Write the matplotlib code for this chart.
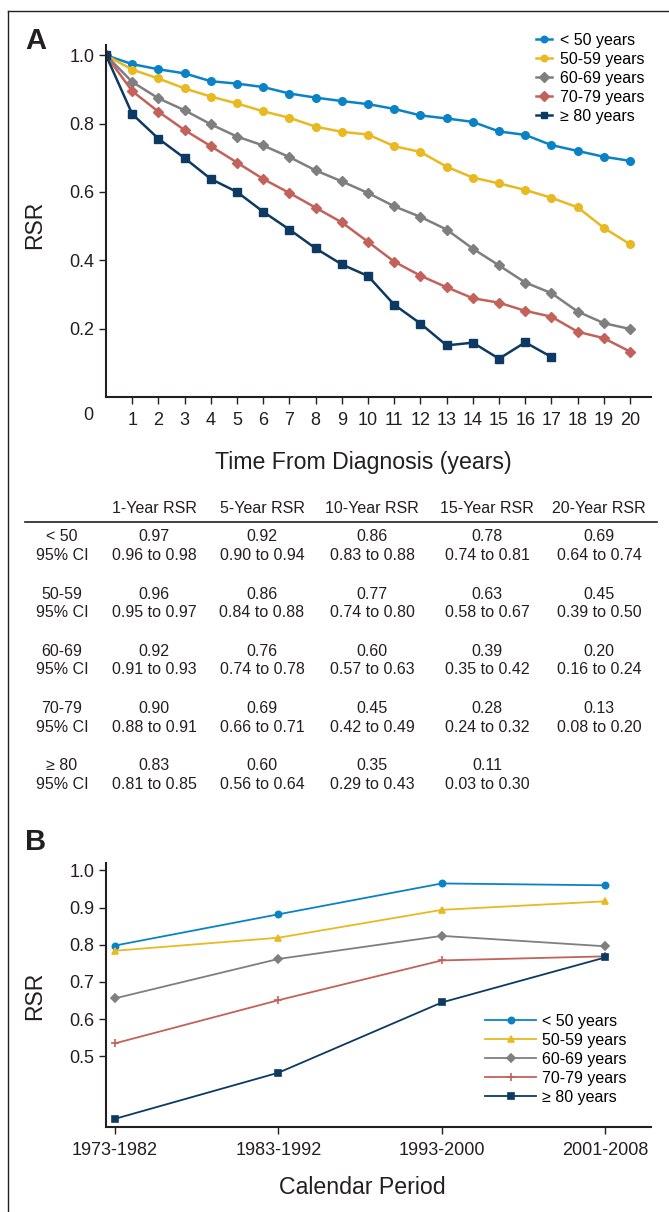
import matplotlib
matplotlib.use("Agg")
import matplotlib.pyplot as plt
from matplotlib.lines import Line2D

plt.rcParams['font.family'] = ['Liberation Sans', 'DejaVu Sans']

# ---- panel A data: relative survival ratio by years from diagnosis ----
years = list(range(0, 21))
rsr_lt50 = [1.0, 0.974, 0.959, 0.947, 0.924, 0.917, 0.907, 0.888, 0.876, 0.866, 0.857,
            0.843, 0.824, 0.815, 0.805, 0.777, 0.767, 0.737, 0.720, 0.703, 0.691]
rsr_50_59 = [1.0, 0.958, 0.932, 0.903, 0.879, 0.859, 0.836, 0.817, 0.791, 0.776, 0.768,
             0.734, 0.717, 0.674, 0.642, 0.625, 0.606, 0.583, 0.555, 0.495, 0.447]
rsr_60_69 = [1.0, 0.922, 0.874, 0.839, 0.798, 0.762, 0.736, 0.702, 0.663, 0.631, 0.597,
             0.558, 0.527, 0.490, 0.434, 0.385, 0.335, 0.304, 0.250, 0.216, 0.199]
rsr_70_79 = [1.0, 0.895, 0.835, 0.781, 0.734, 0.686, 0.638, 0.597, 0.554, 0.511, 0.454,
             0.396, 0.355, 0.321, 0.289, 0.276, 0.252, 0.235, 0.191, 0.172, 0.133]
rsr_ge80 = [1.0, 0.828, 0.756, 0.699, 0.638, 0.600, 0.542, 0.490, 0.435, 0.388, 0.354,
            0.270, 0.215, 0.151, 0.159, 0.112, 0.160, 0.117]

labels = ['< 50 years', '50-59 years', '60-69 years', '70-79 years', '\u2265 80 years']
colors = ['#0a83c6', '#e8b920', '#7f7f80', '#c2625a', '#0c3a62']

# ---- table data ----
tbl_cols = ['1-Year RSR', '5-Year RSR', '10-Year RSR', '15-Year RSR', '20-Year RSR']
tbl_rows = ['< 50', '50-59', '60-69', '70-79', '\u2265 80']
tbl_rsr = [[0.97, 0.92, 0.86, 0.78, 0.69],
           [0.96, 0.86, 0.77, 0.63, 0.45],
           [0.92, 0.76, 0.60, 0.39, 0.20],
           [0.90, 0.69, 0.45, 0.28, 0.13],
           [0.83, 0.60, 0.35, 0.11, None]]
tbl_lo = [[0.96, 0.90, 0.83, 0.74, 0.64],
          [0.95, 0.84, 0.74, 0.58, 0.39],
          [0.91, 0.74, 0.57, 0.35, 0.16],
          [0.88, 0.66, 0.42, 0.24, 0.08],
          [0.81, 0.56, 0.29, 0.03, None]]
tbl_hi = [[0.98, 0.94, 0.88, 0.81, 0.74],
          [0.97, 0.88, 0.80, 0.67, 0.50],
          [0.93, 0.78, 0.63, 0.42, 0.24],
          [0.91, 0.71, 0.49, 0.32, 0.20],
          [0.85, 0.64, 0.43, 0.30, None]]

# ---- panel B data: 5-year RSR by calendar period ----
periods = ['1973-1982', '1983-1992', '1993-2000', '2001-2008']
per_lt50 = [0.798, 0.882, 0.965, 0.960]
per_50_59 = [0.784, 0.819, 0.894, 0.917]
per_60_69 = [0.656, 0.762, 0.824, 0.796]
per_70_79 = [0.535, 0.651, 0.758, 0.769]
per_ge80 = [0.332, 0.456, 0.645, 0.766]

W, H = 669, 1212
INK = '#231f20'
fig = plt.figure(figsize=(W / 100, H / 100), dpi=100)


def fx(px):
    return px / W


def fy(py):
    return 1 - py / H


def style_axes(ax):
    for s in ['top', 'right']:
        ax.spines[s].set_visible(False)
    for s in ['left', 'bottom']:
        ax.spines[s].set_linewidth(1.5)
        ax.spines[s].set_color(INK)
    ax.tick_params(length=5, width=1, color=INK, labelsize=13, labelcolor=INK)


# frame around the figure
fig.add_artist(Line2D([fx(8), fx(8)], [0, fy(11)], color=INK, lw=1))
fig.add_artist(Line2D([fx(8), 1], [fy(11), fy(11)], color=INK, lw=1))

# ---------------- panel A ----------------
axA = fig.add_axes([fx(106), fy(397), fx(651) - fx(106), fy(45) - fy(397)])
seriesA = [rsr_lt50, rsr_50_59, rsr_60_69, rsr_70_79, rsr_ge80]
markersA = ['o', 'o', 'D', 'D', 's']
for vals, lab, c, m in zip(seriesA, labels, colors, markersA):
    axA.plot(years[:len(vals)], vals, color=c, lw=1.8, marker=m, ms=5.5,
             mec=c, mfc=c, label=lab)
axA.set_xlim(0, 20.8)
axA.set_ylim(0, 1.03)
axA.set_xticks(years[1:])
axA.set_yticks([0.2, 0.4, 0.6, 0.8, 1.0])
axA.set_yticklabels(['0.2', '0.4', '0.6', '0.8', '1.0'])
style_axes(axA)
axA.tick_params(axis='x', pad=6)
fig.text(fx(88), fy(415), '0', fontsize=13, color=INK, ha='center', va='center')
axA.legend(loc='upper left', bbox_to_anchor=(fx(536), fy(33)), bbox_transform=fig.transFigure,
           frameon=False, fontsize=11.5, handlelength=1.0, handletextpad=0.5,
           labelspacing=0.25, borderpad=0, borderaxespad=0, markerscale=0.85)
fig.text(fx(35), fy(225), 'RSR', rotation=90, fontsize=16.5,
         ha='center', va='center', color=INK)
fig.text(fx(363), fy(462), 'Time From Diagnosis (years)', fontsize=16.7,
         ha='center', va='center', color=INK)
fig.text(fx(36), fy(41), 'A', fontsize=21, fontweight='bold', ha='center', va='center',
         color=INK)

# ---------------- table ----------------
TFS = 11.5
col_x = [154, 262, 372, 487, 599]
for cx, name in zip(col_x, tbl_cols):
    fig.text(fx(cx), fy(508), name, fontsize=TFS, ha='center', va='center', color=INK)
fig.add_artist(Line2D([fx(25), fx(657)], [fy(522), fy(522)], color=INK, lw=1.2))
row_y0 = 537
row_step = 57.2
for i, rname in enumerate(tbl_rows):
    y1 = row_y0 + i * row_step
    y2 = y1 + 18.5
    fig.text(fx(62), fy(y1), rname, fontsize=TFS, ha='center', va='center', color=INK)
    fig.text(fx(62), fy(y2), '95% CI', fontsize=TFS, ha='center', va='center', color=INK)
    for j, cx in enumerate(col_x):
        v = tbl_rsr[i][j]
        if v is None:
            continue
        fig.text(fx(cx), fy(y1), f'{v:.2f}', fontsize=TFS, ha='center', va='center', color=INK)
        fig.text(fx(cx), fy(y2), f'{tbl_lo[i][j]:.2f} to {tbl_hi[i][j]:.2f}', fontsize=TFS,
                 ha='center', va='center', color=INK)

# ---------------- panel B ----------------
axB = fig.add_axes([fx(106), fy(1127), fx(651) - fx(106), fy(863) - fy(1127)])
seriesB = [per_lt50, per_50_59, per_60_69, per_70_79, per_ge80]
markersB = ['o', '^', 'D', '+', 's']
msB = [4.5, 5, 4, 6, 5]
xB = list(range(len(periods)))
for vals, lab, c, m, ms in zip(seriesB, labels, colors, markersB, msB):
    axB.plot(xB, vals, color=c, lw=1.3, marker=m, ms=ms, mec=c, mfc=c, mew=1.2, label=lab)
axB.set_xlim(-0.055, 3.28)
axB.set_ylim(0.31, 1.02)
axB.set_xticks(xB)
axB.set_xticklabels(periods)
axB.set_yticks([0.5, 0.6, 0.7, 0.8, 0.9, 1.0])
axB.set_yticklabels(['0.5', '0.6', '0.7', '0.8', '0.9', '1.0'])
style_axes(axB)
axB.tick_params(axis='x', pad=6)
axB.legend(loc='upper left', bbox_to_anchor=(fx(485), fy(1014)), bbox_transform=fig.transFigure,
           frameon=False, fontsize=11.5, handlelength=3.2, handletextpad=0.4,
           labelspacing=0.25, borderpad=0, borderaxespad=0)
fig.text(fx(35), fy(996), 'RSR', rotation=90, fontsize=16.5,
         ha='center', va='center', color=INK)
fig.text(fx(362), fy(1187), 'Calendar Period', fontsize=16.7,
         ha='center', va='center', color=INK)
fig.text(fx(36), fy(842), 'B', fontsize=21, fontweight='bold', ha='center', va='center',
         color=INK)

fig.savefig('out.png', dpi=100)
